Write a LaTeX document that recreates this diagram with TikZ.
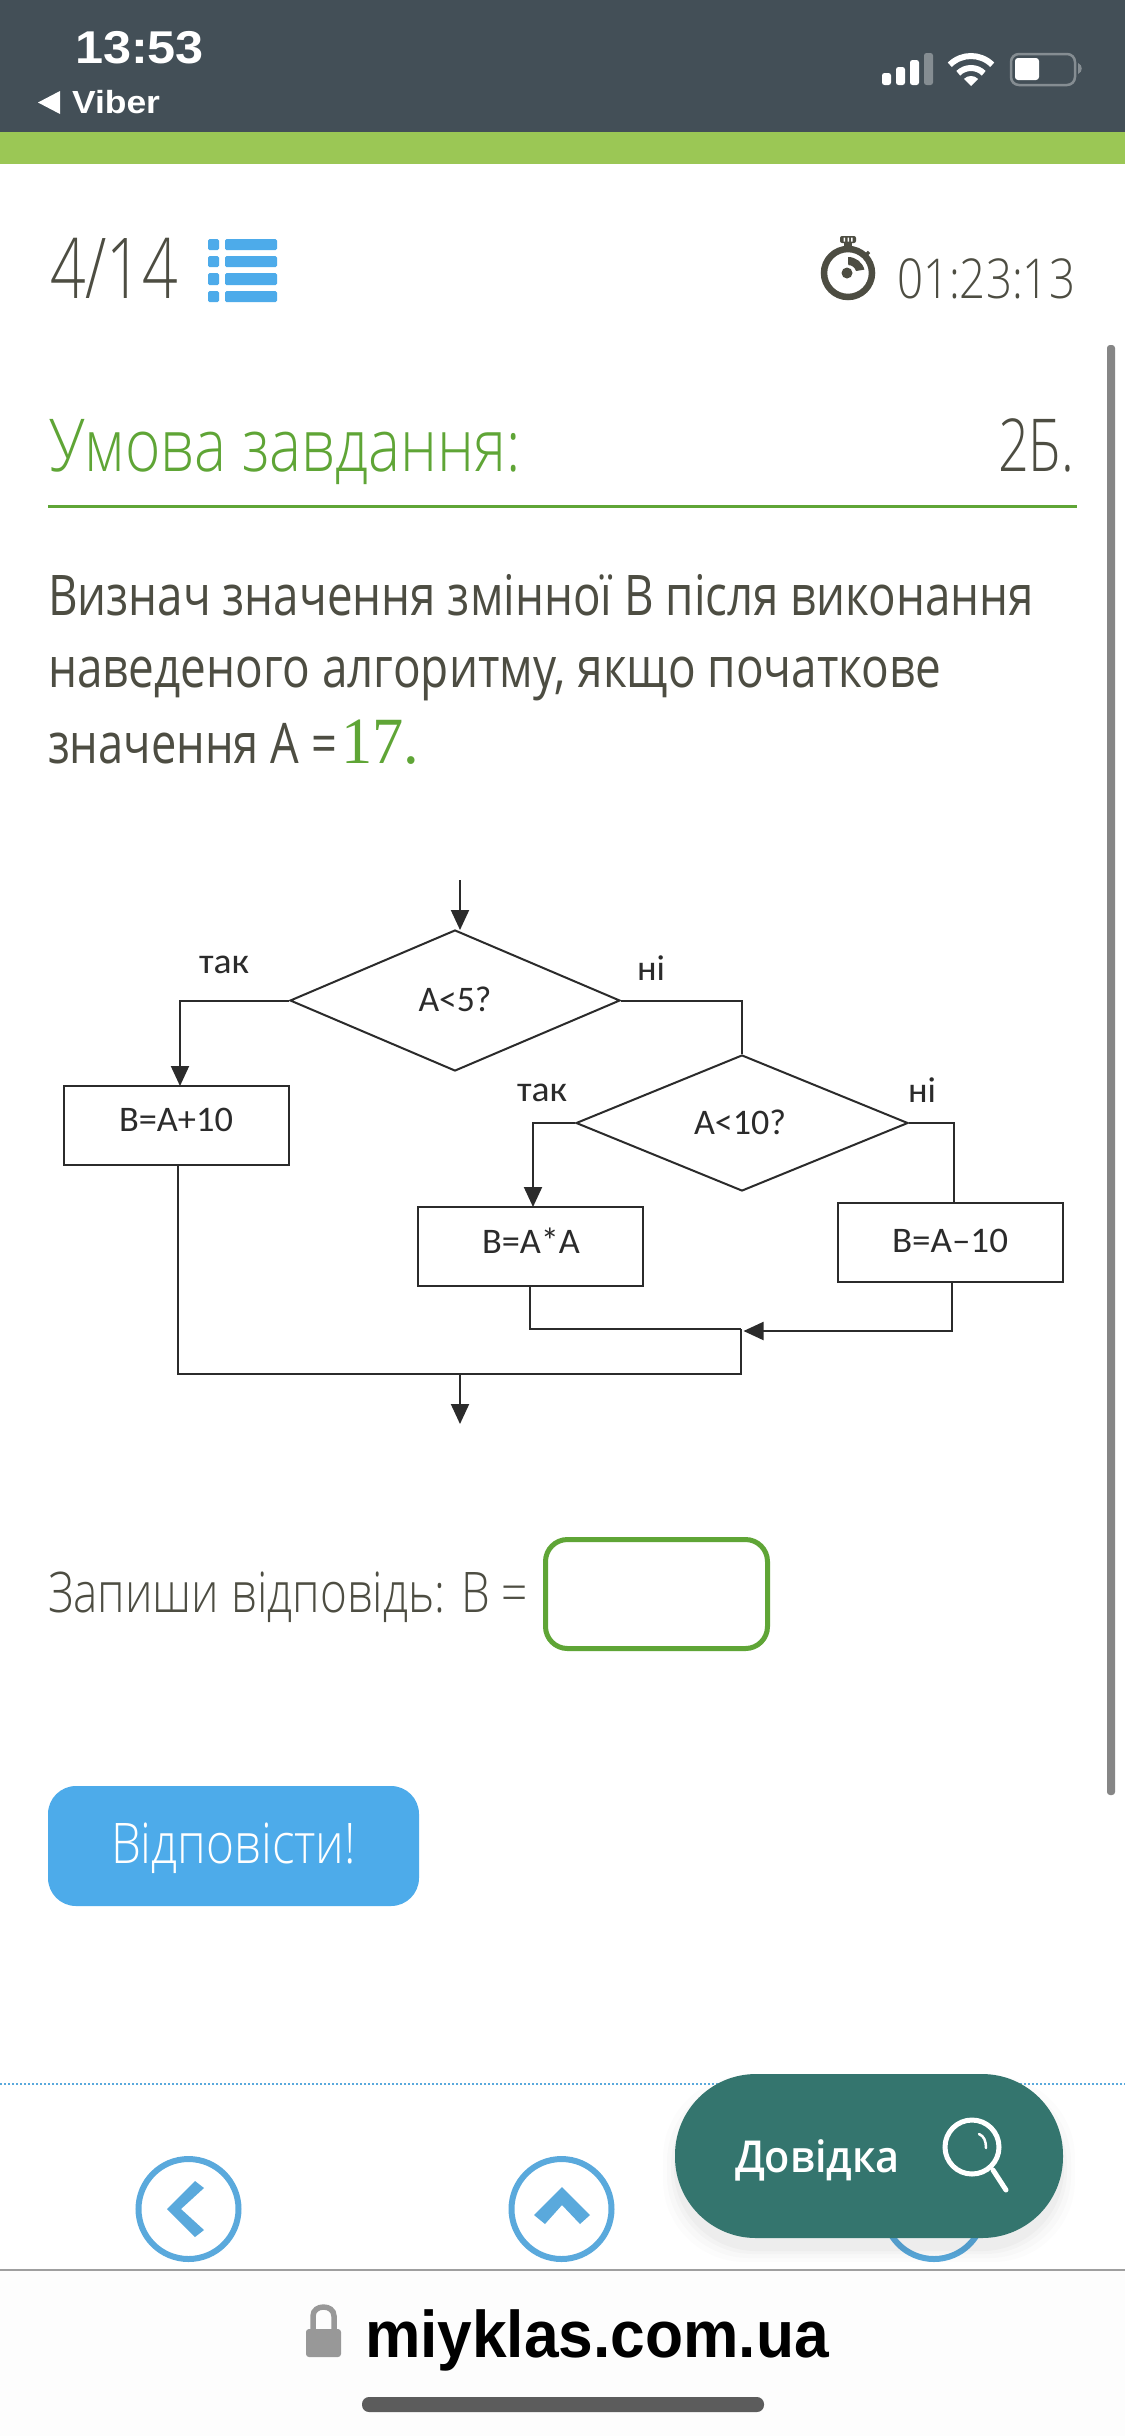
\documentclass[tikz,border=0pt]{standalone}
\usepackage{fontspec}
\usepackage{graphicx}
\usetikzlibrary{shapes.geometric,arrows.meta}
\setmainfont{Open Sans}
\newfontfamily\thinf[UprightFont=* Light]{Open Sans}
\newfontfamily\regf{Open Sans}
\newfontfamily\boldf[UprightFont=* Bold]{Liberation Sans}
\newfontfamily\serf{Liberation Serif}
\newfontfamily\flowf{Carlito}
\newfontfamily\medf[UprightFont=* Semibold]{Open Sans}
\newcommand\fitw[2]{\setbox0\hbox{#2}\pgfmathsetmacro\fitr{#1/\the\wd0}\scalebox{\fitr}[1]{#2}}
\newcommand\sz[1]{\fontsize{#1}{#1}\selectfont}
\definecolor{hdr}{HTML}{434F57}
\definecolor{lime}{HTML}{9BC755}
\definecolor{ink}{HTML}{4D4D42}
\definecolor{grn}{HTML}{5FA536}
\definecolor{sky}{HTML}{4DABEA}
\definecolor{ring}{HTML}{5AA9DC}
\definecolor{teal}{HTML}{34756E}
\definecolor{fl}{HTML}{2B2B2B}
\tikzset{
  tx/.style={anchor=base west,inner sep=0pt,outer sep=0pt},
  tc/.style={anchor=base,inner sep=0pt,outer sep=0pt},
  flowbox/.style={draw=fl,line width=2pt,rectangle,inner sep=0pt,minimum width=225pt,minimum height=79pt,text=fl,font=\flowf\sz{36}},
  flowdia/.style={draw=fl,line width=2pt,diamond,inner sep=0pt,text=fl,font=\flowf\sz{36}},
  flowlab/.style={inner sep=0pt,text=fl,font=\flowf\sz{36}},
  link/.style={draw=fl,line width=2pt},
  arr/.style={link,-{Triangle[length=20pt,width=18pt]}},
  navring/.style={draw=ring,line width=6pt}
}
\begin{document}
\begin{tikzpicture}[x=1pt,y=-1pt]
\useasboundingbox (0,0) rectangle (1125,2436);
\fill[white] (0,0) rectangle (1125,2436);
% header
\fill[hdr] (0,0) rectangle (1125,132);
\fill[lime] (0,132) rectangle (1125,164);
\node[tx,text=white] (time) at (75,63) {\boldf\sz{46}\fitw{129}{13:53}};
\fill[white] (38,102.5) -- (60,91) -- (60,114) -- cycle;
\node[tx,text=white] (viber) at (72,113) {\boldf\sz{32}\fitw{88}{Viber}};
% status
\fill[white,rounded corners=2.5pt] (882,73) rectangle (891,85);
\fill[white,rounded corners=2.5pt] (896,67) rectangle (905,85);
\fill[white,rounded corners=2.5pt] (910,60) rectangle (919,85);
\fill[white!35!hdr,rounded corners=2.5pt] (924,53) rectangle (933,85);
\coordinate (wc) at (971,86);
\draw[white,line width=6pt] ([shift={(135:30pt)}]wc) arc[start angle=135,end angle=45,radius=30pt];
\draw[white,line width=6pt] ([shift={(135:18pt)}]wc) arc[start angle=135,end angle=45,radius=18pt];
\fill[white] (wc) -- ([shift={(135:10pt)}]wc) arc[start angle=135,end angle=45,radius=10pt] -- cycle;
\draw[white!35!hdr,line width=2.5pt,rounded corners=8pt] (1011,54) rectangle (1075,85);
\fill[white,rounded corners=3pt] (1015,58) rectangle (1039,80);
\fill[white!35!hdr] (1078,63) .. controls (1083,65) and (1083,72) .. (1078,74) -- cycle;
% counter row
\node[tx,text=ink] (cnt) at (50,298) {\thinf\sz{84}\fitw{128}{4/14}};
\foreach \yy/\yz in {239/250,256/267,273/285,291/302}{
  \fill[sky,rounded corners=1.5pt] (208,\yy) rectangle (219,\yz);
  \fill[sky,rounded corners=1.5pt] (225,\yy) rectangle (277,\yz);
}
\draw[ink,line width=6.5pt] (848,273) circle[radius=24pt];
\fill[ink] (844,243) rectangle (852,250);
\fill[ink,rounded corners=2pt] (840,236) rectangle (856,243);
\fill[white] (843.5,237.5) rectangle (845,241.5) (847.5,237.5) rectangle (849,241.5) (851,237.5) rectangle (852.5,241.5);
\draw[ink,line width=3.5pt] (864,257) -- (869,252);
\fill[ink] (848,257) arc[start angle=90,end angle=15,radius=17pt] -- (856,271) arc[start angle=15,end angle=90,radius=8pt] -- cycle;
\fill[ink] (847,273) circle[radius=5.5pt];
\node[tx,text=ink] (timer) at (897,298) {\thinf\sz{55}\fitw{178}{01:23:13}};
% heading
\node[tx,text=grn] (head) at (49,471) {\thinf\sz{73}\fitw{472}{Умова завдання:}};
\node[tx,text=ink] (pts) at (998,471) {\thinf\sz{73}\fitw{76}{2Б.}};
\fill[grn] (48,504.5) rectangle (1077,507.5);
% scrollbar
\fill[gray!95,rounded corners=3pt] (1107,345) rectangle (1115,1795);
% question
\node[tx,text=ink] (q1) at (48,615) {\regf\sz{56}\fitw{986}{Визнач значення змінної В після виконання}};
\node[tx,text=ink] (q2) at (48,687) {\regf\sz{56}\fitw{893}{наведеного алгоритму, якщо початкове}};
\node[tx,text=ink] (q3) at (48,763) {\regf\sz{56}\fitw{289}{значення А =}};
\node[tx,text=grn] (q4) at (341,763) {\serf\sz{66}\fitw{78}{17.}};
% flowchart
\coordinate (in) at (460,880);
\coordinate (t1) at (460,930);
\node[flowdia,shape aspect=2.34,minimum width=330pt,minimum height=141pt] (d1) at (455,1000.5) {};
\node[flowlab] (d1t) at (455,999) {\fitw{73}{A<5?}};
\node[flowdia,shape aspect=2.44,minimum width=332pt,minimum height=136pt] (d2) at (742,1123) {};
\node[flowlab] (d2t) at (740,1122) {\fitw{92}{A<10?}};
\node[flowbox] (b1) at (176,1125.5) {};
\node[flowlab] (b1t) at (176,1120) {\fitw{114}{B=A+10}};
\node[flowbox] (b2) at (530.5,1246) {};
\node[flowlab] (b2t) at (531,1241) {\fitw{98}{B=A*A}};
\node[flowbox] (b3) at (950.5,1242.5) {};
\node[flowlab] (b3t) at (950,1241) {\fitw{116}{B=A–10}};
\node[flowlab] (y1) at (224,965) {\fitw{50}{так}};
\node[flowlab] (n1) at (651,968) {\fitw{28}{ні}};
\node[flowlab] (y2) at (542,1093) {\fitw{50}{так}};
\node[flowlab] (n2) at (922,1090) {\fitw{28}{ні}};
\coordinate (e1) at (180,1086);
\coordinate (e2) at (533,1207);
\coordinate (e3) at (954,1203);
\coordinate (k1) at (530,1329);
\coordinate (k2) at (952,1331);
\coordinate (m1) at (741,1329);
\coordinate (m2) at (743.5,1331);
\coordinate (m3) at (741,1373.5);
\coordinate (m4) at (178,1373.5);
\coordinate (o1) at (460,1374);
\coordinate (o2) at (460,1424);
\draw[arr] (in) -- (t1);
\draw[arr] (d1.west) -| (e1);
\draw[link] (d1.east) -| (d2.north);
\draw[arr] (d2.west) -| (e2);
\draw[link] (d2.east) -| (e3);
\draw[link] (b2.south -| k1) -- (k1) -- (m1);
\draw[arr] (b3.south -| k2) -- (k2) -- (m2);
\draw[link] (m1) -- (m3) -- (m4) -- (b1.south -| m4);
\draw[arr] (o1) -- (o2);
% answer
\node[tx,text=ink] (ans) at (48,1612) {\thinf\sz{56}\fitw{480}{Запиши відповідь: В =}};
\draw[grn,line width=5pt,rounded corners=22pt] (545.5,1539.5) rectangle (767.5,1648.5);
\fill[sky,rounded corners=28pt] (48,1786) rectangle (419,1906);
\node[tx,text=white] (btn) at (111,1863) {\thinf\sz{56}\fitw{245}{Відповісти!}};
% bottom nav
\draw[ring,line width=2pt,dash pattern=on 2pt off 2pt] (0,2084) -- (1125,2084);
\draw[navring] (188.5,2209) circle[radius=50pt];
\draw[navring] (561.5,2209) circle[radius=50pt];
\draw[navring] (934,2209) circle[radius=50pt];
\fill[ring] (167,2209) -- (195,2181) -- (204,2188) -- (181,2209) -- (204,2230) -- (195,2237) -- cycle;
\fill[ring] (562,2187) -- (590,2215) -- (580,2224) -- (562,2205) -- (545,2224) -- (534,2215) -- cycle;
% help pill
\foreach \gg/\oo in {12/.012,8/.016,4/.02,1/.025}{
  \fill[black,opacity=\oo,rounded corners=82pt] (675-\gg,2088-\gg) rectangle (1063+\gg,2250+\gg);
}
\fill[teal,rounded corners=81pt] (675,2074) rectangle (1063,2238);
\node[tx,text=white] (help) at (735,2172) {\medf\sz{44}\fitw{165}{Довідка}};
\draw[white,line width=5pt] (972,2147) circle[radius=27pt];
\draw[white,line width=5pt,line cap=round] (993,2170) -- (1006,2190);
\draw[white,line width=2.5pt,line cap=round] (979,2134) .. controls (984,2136) and (986,2141) .. (986,2148);
% url bar
\fill[black!0.7] (0,2270) rectangle (1125,2436);
\draw[gray!75,line width=2pt] (0,2270) -- (1125,2270);
\fill[gray!85!black!70,rounded corners=3pt] (306,2329) rectangle (341,2357);
\draw[gray!85!black!70,line width=5.5pt] (313,2330) -- (313,2316) .. controls (313,2304) and (334,2304) .. (334,2316) -- (334,2330);
\node[tx,text=black] (url) at (365,2357) {\boldf\sz{66}\fitw{464}{miyklas.com.ua}};
\fill[black!64,rounded corners=7pt] (362,2397) rectangle (764,2412);
\end{tikzpicture}
\end{document}
